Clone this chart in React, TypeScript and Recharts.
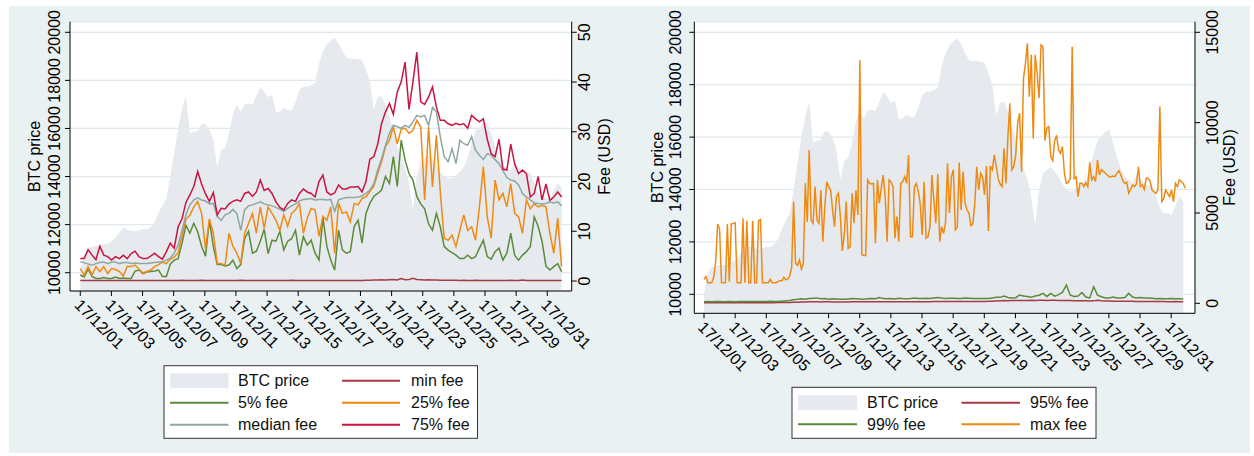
import { Area, CartesianGrid, ComposedChart, Line, XAxis, YAxis } from 'recharts';

const FONT = '"Liberation Sans", Arial, Helvetica, sans-serif';
const BG = '#eaf1f3';
const PRICE_FILL = '#e6eaee';
const GRID = '#dfe8ec';
const C_MIN = '#a53b47';
const C_P5 = '#5a8a3a';
const C_P25 = '#ee8a14';
const C_MED = '#8fa79f';
const C_P75 = '#c8143f';

const TICK_DAYS = [1, 3, 5, 7, 9, 11, 13, 15, 17, 19, 21, 23, 25, 27, 29, 31];
const TICK_LABELS = [
  '17/12/01', '17/12/03', '17/12/05', '17/12/07', '17/12/09', '17/12/11', '17/12/13', '17/12/15',
  '17/12/17', '17/12/19', '17/12/21', '17/12/23', '17/12/25', '17/12/27', '17/12/29', '17/12/31',
];
const PRICE_TICKS = [10000, 12000, 14000, 16000, 18000, 20000];
const FEE_TICKS_L = [0, 10, 20, 30, 40, 50];
const FEE_TICKS_R = [0, 5000, 10000, 15000];

// 6-hourly readings, Dec 1 -> Dec 31
const PRICE = [
  10000, 10800, 11050, 11050,
  11120, 11120, 11180, 11220,
  11310, 11460, 11670, 11880,
  11790, 11760, 11720, 11760,
  11820, 11800, 11900, 12100,
  12500, 12800, 13100, 14000,
  15000, 16000, 16800, 17350,
  15800, 15850, 15900, 16200,
  16200, 15950, 15500, 14400,
  15100, 15200, 15800, 16600,
  17000, 16700, 17000, 17050,
  17000, 17350, 17700, 17550,
  17300, 17400, 16700, 16700,
  16850, 16780, 16750, 17100,
  17600, 17740, 17740, 17800,
  17900, 18700, 19200, 19500,
  19650, 19770, 19550, 19200,
  18950, 18900, 18900, 18880,
  18850, 18440, 18000, 16800,
  17300, 17350, 17000, 16500,
  15950, 15250, 14800, 14400,
  13700, 12650, 13980, 14620,
  14750, 14870, 14700, 14500,
  14200, 14000, 13920, 13950,
  14050, 14200, 14400, 14800,
  15380, 15890, 16020, 16210,
  16270, 15760, 15250, 14800,
  14500, 14350, 14250, 14550,
  14400, 14250, 14150, 14150,
  13750, 13300, 13100, 13100,
  13030, 13400, 13730, 13540,
];

const MIN_FEE = [
  0.1, 0.1, 0.1, 0.1,
  0.1, 0.1, 0.1, 0.1,
  0.1, 0.1, 0.1, 0.1,
  0.1, 0.1, 0.1, 0.1,
  0.1, 0.1, 0.1, 0.1,
  0.1, 0.1, 0.1, 0.1,
  0.1, 0.1, 0.15, 0.1,
  0.1, 0.1, 0.1, 0.15,
  0.1, 0.1, 0.1, 0.1,
  0.1, 0.1, 0.1, 0.1,
  0.1, 0.15, 0.1, 0.1,
  0.1, 0.1, 0.1, 0.1,
  0.1, 0.1, 0.1, 0.1,
  0.1, 0.1, 0.15, 0.1,
  0.1, 0.1, 0.1, 0.1,
  0.1, 0.1, 0.1, 0.1,
  0.1, 0.1, 0.1, 0.1,
  0.1, 0.1, 0.1, 0.1,
  0.1, 0.15, 0.15, 0.2,
  0.2, 0.25, 0.2, 0.25,
  0.3, 0.2, 0.5, 0.25,
  0.3, 0.55, 0.3, 0.25,
  0.2, 0.25, 0.2, 0.2,
  0.15, 0.15, 0.15, 0.15,
  0.15, 0.1, 0.15, 0.1,
  0.1, 0.15, 0.1, 0.1,
  0.1, 0.1, 0.1, 0.1,
  0.1, 0.1, 0.15, 0.1,
  0.1, 0.2, 0.1, 0.1,
  0.1, 0.1, 0.1, 0.1,
  0.1, 0.1, 0.1, 0.1,
];

const FEE_5 = [
  1.2, 0.8, 2.4, 0.9,
  0.5, 0.5, 0.7, 0.5,
  0.5, 0.8, 0.5, 0.6,
  0.5, 0.5, 2.0, 2.2,
  1.5, 1.8, 1.9, 2.0,
  2.2, 0.9, 0.9, 3.4,
  4.2, 4.5, 7.6, 11.2,
  9.6, 11.6, 9.9, 7.0,
  5.0, 12.2, 6.9, 3.3,
  3.3, 3.0, 3.2, 4.2,
  2.5, 3.3, 8.5, 10.0,
  5.6, 6.0, 8.0, 10.4,
  5.5, 8.2, 8.0, 10.0,
  6.2, 8.0, 8.5, 10.2,
  5.2, 8.9, 7.2, 8.2,
  5.6, 4.2, 12.8, 7.0,
  4.2, 2.2, 10.2, 6.2,
  5.6, 5.9, 11.0, 12.2,
  7.6, 13.6, 15.6, 17.0,
  17.6, 18.3, 21.0, 19.6,
  25.0, 19.0, 28.3, 24.3,
  21.6, 20.3, 17.0, 15.5,
  14.5, 11.5, 10.2, 13.6,
  10.9, 6.9, 6.2, 5.7,
  5.2, 4.5, 4.5, 5.2,
  4.5, 4.9, 6.6, 8.2,
  4.9, 4.4, 5.9, 6.6,
  4.2, 5.6, 9.6, 5.2,
  4.2, 5.2, 5.9, 6.9,
  12.9, 11.0, 8.0, 3.0,
  2.2, 2.9, 3.5, 1.9,
];

const FEE_25 = [
  2.5, 1.2, 2.9, 1.2,
  2.9, 1.9, 2.9, 1.5,
  2.5, 2.3, 1.9, 1.0,
  2.9, 2.9, 3.2, 2.4,
  1.6, 1.9, 2.2, 2.9,
  3.3, 3.8, 3.5, 4.4,
  4.8, 5.7, 9.0, 12.4,
  13.2, 14.9, 16.0, 13.6,
  6.5, 12.5, 9.6, 3.5,
  3.5, 3.2, 9.6, 7.0,
  5.6, 3.5, 9.6, 11.6,
  13.6, 9.6, 14.9, 10.6,
  14.9, 13.6, 12.2, 10.2,
  13.3, 11.0, 13.6, 14.3,
  15.6, 9.6, 12.6, 14.6,
  14.3, 9.0, 13.0, 12.2,
  14.9, 5.6, 15.6, 13.6,
  13.9, 11.9, 15.6, 15.3,
  16.6, 16.9, 18.0, 19.0,
  21.6, 24.0, 27.0, 28.3,
  31.0, 27.6, 30.5, 30.7,
  29.7, 30.3, 32.3, 31.0,
  16.3, 31.0, 18.9, 29.3,
  17.9, 8.6, 8.2, 9.2,
  6.9, 10.2, 13.3, 10.2,
  10.9, 8.2, 14.9, 23.0,
  12.9, 8.6, 20.3, 16.3,
  17.6, 14.9, 19.6, 13.6,
  12.9, 9.6, 16.3, 14.5,
  15.5, 14.9, 15.2, 14.9,
  9.6, 5.6, 12.6, 2.9,
];

const FEE_MEDIAN = [
  3.9, 3.7, 3.4, 3.2,
  3.5, 3.7, 3.8, 3.5,
  3.8, 3.8, 3.5, 3.7,
  3.7, 3.5, 3.6, 3.5,
  3.5, 3.5, 3.6, 3.7,
  3.8, 3.9, 4.2, 4.6,
  5.6, 7.2, 10.2, 13.3,
  15.3, 16.3, 16.7, 16.3,
  16.1, 15.5, 15.6, 13.0,
  12.2, 13.3, 13.6, 14.4,
  13.6, 10.2, 14.3, 15.1,
  15.3, 15.6, 15.9, 15.5,
  15.3, 15.1, 14.8, 14.4,
  14.0, 14.6, 15.1, 15.5,
  16.1, 16.4, 16.5, 16.6,
  16.3, 16.4, 16.4, 16.3,
  16.4, 14.0, 16.3, 16.6,
  16.8, 16.8, 16.8, 16.9,
  17.1, 17.6, 18.3, 19.5,
  22.3, 24.6, 27.3, 29.7,
  31.3, 31.0, 30.7, 31.3,
  30.9, 32.0, 33.3, 33.0,
  33.3, 31.3, 34.9, 34.0,
  29.0, 25.0, 24.0, 26.6,
  23.6, 28.3, 27.6, 27.3,
  29.0, 26.3, 25.3, 24.4,
  25.6, 25.3, 24.4, 23.6,
  22.2, 20.8, 20.3, 20.1,
  19.3, 17.6, 16.9, 16.3,
  15.7, 15.6, 15.5, 15.6,
  15.9, 15.7, 15.9, 15.1,
];

const FEE_75 = [
  4.5, 4.5, 6.3, 5.2,
  4.3, 7.0, 5.2, 4.9,
  4.2, 4.9, 4.5, 5.2,
  4.5, 5.5, 6.0, 4.9,
  4.5, 4.5, 5.0, 5.6,
  4.9, 4.4, 5.9, 7.6,
  6.6, 10.9, 12.5, 15.8,
  17.3, 19.0, 22.0, 19.5,
  17.5, 16.0, 17.8, 13.3,
  14.6, 14.5, 15.5, 16.0,
  16.3, 16.0, 17.6, 17.9,
  17.0, 17.9, 20.3, 18.2,
  18.6, 17.6, 15.9, 14.8,
  14.3, 15.6, 16.3, 16.0,
  17.6, 18.5, 17.9, 17.6,
  16.9, 20.0, 21.3, 17.9,
  17.3, 17.7, 19.3, 18.5,
  18.5, 18.9, 18.9, 19.0,
  17.9, 20.0, 24.5, 25.0,
  27.5, 31.7, 34.0, 35.7,
  33.5, 38.0, 40.0, 44.0,
  34.5, 40.0, 46.0, 36.0,
  35.5, 37.0, 39.0, 35.0,
  32.3, 32.3, 31.6, 31.3,
  31.7, 31.4, 31.6, 30.7,
  33.3, 32.6, 32.0, 32.6,
  28.5, 25.6, 25.0, 28.5,
  22.5, 22.3, 27.5, 23.5,
  21.6, 22.3, 21.6, 16.9,
  17.6, 21.0, 16.3, 19.5,
  16.2, 16.9, 17.9, 16.9,
];

const FEE_95 = [
  30, 35, 30, 35,
  35, 30, 35, 30,
  30, 35, 30, 35,
  35, 30, 35, 35,
  35, 40, 35, 40,
  40, 45, 50, 55,
  60, 70, 75, 80,
  85, 80, 75, 80,
  80, 75, 70, 75,
  70, 75, 80, 80,
  80, 85, 80, 85,
  85, 90, 85, 80,
  80, 85, 80, 85,
  85, 80, 85, 90,
  90, 85, 90, 95,
  95, 100, 95, 100,
  100, 95, 100, 105,
  100, 105, 100, 105,
  105, 110, 120, 130,
  140, 150, 145, 150,
  150, 160, 155, 160,
  165, 160, 170, 165,
  160, 170, 165, 160,
  155, 150, 160, 145,
  140, 135, 140, 130,
  135, 170, 140, 130,
  125, 120, 120, 115,
  110, 115, 110, 105,
  100, 105, 100, 95,
  95, 100, 95, 90,
  90, 95, 90, 85,
];

const FEE_99 = [
  90, 95, 90, 95,
  95, 90, 100, 95,
  90, 95, 100, 95,
  100, 95, 100, 105,
  100, 110, 105, 110,
  120, 140, 160, 200,
  220, 250, 230, 260,
  280, 300, 250, 260,
  230, 250, 240, 220,
  220, 240, 260, 250,
  240, 230, 250, 260,
  250, 320, 260, 250,
  260, 240, 280, 260,
  250, 270, 300, 260,
  260, 280, 270, 300,
  320, 290, 270, 280,
  280, 270, 260, 290,
  280, 270, 260, 270,
  260, 270, 300, 330,
  330, 400, 320, 300,
  310, 460, 400, 380,
  330, 400, 450, 550,
  380, 550, 400, 480,
  600, 1015, 450, 380,
  400, 600, 350, 300,
  920, 450, 360, 300,
  300, 350, 300, 290,
  320, 550, 350, 300,
  320, 300, 300, 280,
  250, 260, 250, 250,
  260, 250, 250, 240,
];

// 3-hourly readings, Dec 1 -> Dec 31
const MAX_FEE = [
  1330, 1480, 1140, 1140, 1140, 1450, 2300, 4390,
  4100, 1140, 1140, 1140, 4390, 1200, 4400, 4420,
  4460, 1140, 1140, 1140, 4700, 1140, 4570, 1140,
  1140, 4570, 1140, 1140, 4570, 4640, 1140, 1140,
  1140, 1140, 1330, 1140, 1140, 1140, 1200, 1250,
  1250, 1440, 1300, 1350, 1500, 2000, 5630, 2210,
  2100, 2400, 1900, 2210, 6640, 4500, 8490, 4610,
  4430, 6460, 4610, 4430, 6270, 3410, 5300, 6730,
  6460, 6270, 5170, 4240, 5900, 6090, 4800, 2900,
  3800, 5630, 3040, 3140, 6090, 4430, 6270, 4890,
  13470, 2700, 2650, 2650, 6830, 6640, 6610, 6640,
  3320, 6830, 5540, 6400, 7100, 5900, 3410, 6830,
  6730, 6460, 3600, 4800, 3410, 6640, 6730, 7010,
  6640, 8210, 3690, 3690, 6460, 6640, 6200, 5500,
  3780, 6730, 3600, 3690, 4240, 7100, 5700, 4430,
  7160, 3410, 4240, 3870, 4500, 7750, 5000, 7000,
  7400, 4060, 4200, 7790, 5170, 7300, 5540, 5170,
  5000, 4300, 4400, 5500, 7560, 6270, 7200, 7000,
  6000, 7600, 4000, 7600, 7380, 8210, 7600, 6900,
  6600, 6460, 8580, 6640, 9230, 11070, 7380, 7560,
  8200, 9960, 10520, 7290, 12450, 13280, 14390, 11440,
  13750, 9130, 13750, 12730, 11350, 14300, 14200, 9000,
  9690, 9780, 8120, 7900, 9000, 9300, 8490, 8300,
  8680, 7200, 6640, 6700, 6920, 14200, 6900, 7000,
  5900, 6640, 6640, 6460, 6680, 6460, 7800, 6830,
  7010, 6740, 7930, 7100, 7400, 7300, 7200, 7100,
  7010, 7010, 7050, 7010, 7200, 7340, 7100, 6800,
  6640, 6700, 6090, 6300, 6550, 6460, 6600, 7560,
  6460, 6550, 6300, 6920, 6920, 6740, 6270, 6180,
  6090, 6270, 10890, 5630, 5800, 6270, 6090, 5900,
  6270, 5630, 6640, 6460, 6830, 6740, 6640, 6370,
];

const LSTEP = 0.2514;
const RSTEP = 0.1251;

const leftRows = PRICE.map((p, i) => ({
  t: 1 + i * LSTEP,
  price: p,
  min: MIN_FEE[i],
  p5: FEE_5[i],
  p25: FEE_25[i],
  median: FEE_MEDIAN[i],
  p75: FEE_75[i],
}));

const rightRows = MAX_FEE.map((m, i) => {
  const even = i % 2 === 0;
  const k = i / 2;
  return {
    t: 1 + i * RSTEP,
    price: even ? PRICE[k] : null,
    p95: even ? FEE_95[k] : null,
    p99: even ? FEE_99[k] : null,
    max: m,
  };
});

function yTick(shift: number) {
  return (props: any) => {
    const { x, y, payload } = props;
    const cx = x + shift;
    return (
      <text
        x={cx}
        y={y}
        transform={`rotate(-90 ${cx} ${y})`}
        textAnchor="middle"
        dominantBaseline="central"
        fontSize={16}
        fontFamily={FONT}
        fill="#000"
      >
        {payload.value}
      </text>
    );
  };
}

function XTick(props: any) {
  const { x, y, payload } = props;
  const label = TICK_LABELS[TICK_DAYS.indexOf(payload.value)] ?? '';
  const ax = x - 3;
  const ay = y + 4;
  return (
    <text
      x={ax}
      y={ay}
      transform={`rotate(45 ${ax} ${ay})`}
      textAnchor="start"
      dominantBaseline="central"
      fontSize={16}
      fontFamily={FONT}
      fill="#000"
    >
      {label}
    </text>
  );
}

const axisProps = {
  axisLine: { stroke: '#000', strokeWidth: 1 },
  tickLine: { stroke: '#000', strokeWidth: 1 },
  tickSize: 5,
  interval: 0 as const,
  allowDataOverflow: true,
};

function LeftChart() {
  return (
    <ComposedChart
      width={620}
      height={456}
      data={leftRows}
      margin={{ top: 21.7, right: 7.3, bottom: 0, left: 0 }}
    >
      <CartesianGrid yAxisId="price" vertical={false} stroke={GRID} strokeWidth={1.2} fill="#fff" />
      <XAxis
        dataKey="t"
        type="number"
        domain={[0.34, 32.57]}
        ticks={TICK_DAYS}
        height={165}
        tick={XTick}
        {...axisProps}
      />
      <YAxis
        yAxisId="price"
        orientation="left"
        type="number"
        domain={[9239, 20441]}
        ticks={PRICE_TICKS}
        width={70}
        tick={yTick(-8.5)}
        {...axisProps}
      />
      <YAxis
        yAxisId="fee"
        orientation="right"
        type="number"
        domain={[-2.01, 52.13]}
        ticks={FEE_TICKS_L}
        width={41}
        tick={yTick(5.8)}
        {...axisProps}
      />
      <Area yAxisId="price" dataKey="price" type="linear" stroke="none" fill={PRICE_FILL} fillOpacity={1} dot={false} activeDot={false} isAnimationActive={false} />
      <Line yAxisId="fee" dataKey="min" type="linear" stroke={C_MIN} strokeWidth={1.5} dot={false} activeDot={false} isAnimationActive={false} />
      <Line yAxisId="fee" dataKey="p5" type="linear" stroke={C_P5} strokeWidth={1.5} dot={false} activeDot={false} isAnimationActive={false} />
      <Line yAxisId="fee" dataKey="p25" type="linear" stroke={C_P25} strokeWidth={1.5} dot={false} activeDot={false} isAnimationActive={false} />
      <Line yAxisId="fee" dataKey="median" type="linear" stroke={C_MED} strokeWidth={1.5} dot={false} activeDot={false} isAnimationActive={false} />
      <Line yAxisId="fee" dataKey="p75" type="linear" stroke={C_P75} strokeWidth={1.5} dot={false} activeDot={false} isAnimationActive={false} />
    </ComposedChart>
  );
}

function RightChart() {
  return (
    <ComposedChart
      width={630}
      height={456}
      data={rightRows}
      margin={{ top: 21.7, right: 9, bottom: 0, left: 0 }}
    >
      <CartesianGrid yAxisId="price" vertical={false} stroke={GRID} strokeWidth={1.2} fill="#fff" />
      <XAxis
        dataKey="t"
        type="number"
        domain={[0.377, 32.53]}
        ticks={TICK_DAYS}
        height={142.7}
        tick={XTick}
        {...axisProps}
      />
      <YAxis
        yAxisId="price"
        orientation="left"
        type="number"
        domain={[9275, 20405]}
        ticks={PRICE_TICKS}
        width={70.3}
        tick={yTick(-11.3)}
        {...axisProps}
      />
      <YAxis
        yAxisId="fee"
        orientation="right"
        type="number"
        domain={[-553, 15587]}
        ticks={FEE_TICKS_R}
        width={50}
        tick={yTick(11)}
        {...axisProps}
      />
      <Area yAxisId="price" dataKey="price" type="linear" stroke="none" fill={PRICE_FILL} fillOpacity={1} connectNulls dot={false} activeDot={false} isAnimationActive={false} />
      <Line yAxisId="fee" dataKey="p95" type="linear" stroke={C_MIN} strokeWidth={1.5} connectNulls dot={false} activeDot={false} isAnimationActive={false} />
      <Line yAxisId="fee" dataKey="p99" type="linear" stroke={C_P5} strokeWidth={1.5} connectNulls dot={false} activeDot={false} isAnimationActive={false} />
      <Line yAxisId="fee" dataKey="max" type="linear" stroke={C_P25} strokeWidth={1.5} dot={false} activeDot={false} isAnimationActive={false} />
    </ComposedChart>
  );
}

type LegendItem = { label: string; color: string; area?: boolean };

function LegendBox({ x, y, w, h, rows, cols }: {
  x: number; y: number; w: number; h: number;
  rows: { y: number; items: LegendItem[] }[];
  cols: { sx: number; sw: number; tx: number }[];
}) {
  return (
    <g>
      <rect x={x} y={y} width={w} height={h} fill="#fff" stroke="#333" strokeWidth={1} />
      {rows.map((r, ri) =>
        r.items.map((it, ci) => {
          const c = cols[ci];
          return (
            <g key={`${ri}-${ci}`}>
              {it.area ? (
                <rect x={c.sx} y={r.y - 7.5} width={c.sw} height={15} fill={it.color} />
              ) : (
                <line x1={c.sx} x2={c.sx + c.sw} y1={r.y} y2={r.y} stroke={it.color} strokeWidth={2} />
              )}
              <text x={c.tx} y={r.y} dominantBaseline="central" fontSize={16} fontFamily={FONT} fill="#111">
                {it.label}
              </text>
            </g>
          );
        })
      )}
    </g>
  );
}

function AxisTitle({ x, y, text }: { x: number; y: number; text: string }) {
  return (
    <text
      x={x}
      y={y}
      transform={`rotate(-90 ${x} ${y})`}
      textAnchor="middle"
      dominantBaseline="central"
      fontSize={16}
      fontFamily={FONT}
      fill="#000"
    >
      {text}
    </text>
  );
}

export default function App() {
  return (
    <div style={{ position: 'relative', width: 1254, height: 456, background: '#fff', overflow: 'hidden' }}>
      <style>{'body{margin:0}'}</style>
      <div style={{ position: 'absolute', left: 9, top: 6, width: 1241, height: 447, background: BG }} />
      <div style={{ position: 'absolute', left: 0, top: 0 }}>
        <LeftChart />
      </div>
      <div style={{ position: 'absolute', left: 624, top: 0 }}>
        <RightChart />
      </div>
      <svg
        width={1254}
        height={456}
        style={{ position: 'absolute', left: 0, top: 0, pointerEvents: 'none' }}
      >
        <AxisTitle x={34} y={156.5} text="BTC price" />
        <AxisTitle x={604} y={156.5} text="Fee (USD)" />
        <AxisTitle x={657} y={167.5} text="BTC price" />
        <AxisTitle x={1229} y={167.5} text="Fee (USD)" />
        <LegendBox
          x={164}
          y={365.7}
          w={313.5}
          h={72.6}
          cols={[{ sx: 170, sw: 58.5, tx: 238 }, { sx: 342, sw: 58, tx: 411 }]}
          rows={[
            { y: 380.7, items: [{ label: 'BTC price', color: PRICE_FILL, area: true }, { label: 'min fee', color: C_MIN }] },
            { y: 402.7, items: [{ label: '5% fee', color: C_P5 }, { label: '25% fee', color: C_P25 }] },
            { y: 424.7, items: [{ label: 'median fee', color: C_MED }, { label: '75% fee', color: C_P75 }] },
          ]}
        />
        <LegendBox
          x={792}
          y={387.3}
          w={304}
          h={51}
          cols={[{ sx: 798, sw: 59, tx: 867 }, { sx: 961.5, sw: 58.5, tx: 1030 }]}
          rows={[
            { y: 402.7, items: [{ label: 'BTC price', color: PRICE_FILL, area: true }, { label: '95% fee', color: C_MIN }] },
            { y: 424.3, items: [{ label: '99% fee', color: C_P5 }, { label: 'max fee', color: C_P25 }] },
          ]}
        />
      </svg>
    </div>
  );
}
